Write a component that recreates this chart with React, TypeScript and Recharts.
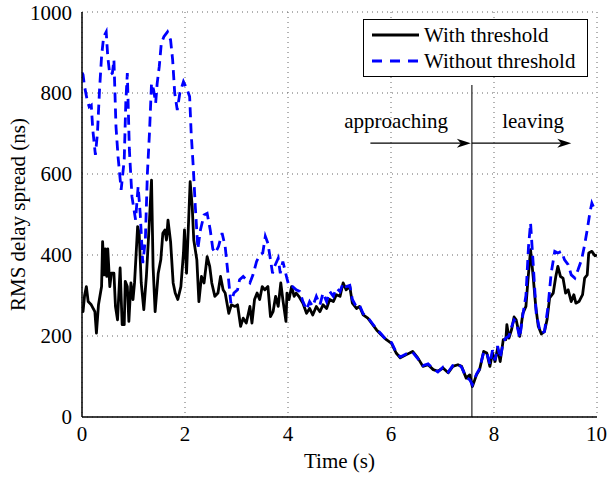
import {
  CartesianGrid,
  Legend,
  Line,
  LineChart,
  ReferenceDot,
  ReferenceLine,
  XAxis,
  YAxis,
} from "recharts";

const FONT = '"Liberation Serif", "Times New Roman", serif';

const xTicks = [0, 2, 4, 6, 8, 10];
const yTicks = [0, 200, 400, 600, 800, 1000];
const seriesNames = ["With threshold", "Without threshold"];
const transitionTime = 7.57;
const transitionTop = 820;

// [time (s), RMS delay spread (ns)]
const withThreshold: [number, number][] = [
  [0, 275], [0.02, 260], [0.05, 300], [0.085, 322], [0.12, 285], [0.18, 277],
  [0.25, 260], [0.28, 207], [0.32, 277], [0.38, 322], [0.4, 433], [0.43, 351],
  [0.45, 415], [0.48, 347], [0.5, 415], [0.54, 322], [0.57, 355], [0.62, 355],
  [0.65, 273], [0.69, 240], [0.74, 368], [0.78, 228], [0.82, 228], [0.84, 335],
  [0.88, 322], [0.91, 236], [0.95, 331], [0.99, 290], [1.02, 331], [1.08, 470],
  [1.11, 454], [1.15, 331], [1.2, 265], [1.25, 347], [1.3, 462], [1.35, 585],
  [1.38, 372], [1.42, 260], [1.48, 355], [1.53, 388], [1.57, 454], [1.61, 462],
  [1.64, 437], [1.67, 486], [1.72, 433], [1.77, 331], [1.81, 306], [1.86, 290],
  [1.92, 322], [1.97, 405], [1.99, 462], [2.03, 355], [2.1, 581], [2.14, 520],
  [2.17, 437], [2.23, 388], [2.27, 285], [2.32, 347], [2.37, 331], [2.43, 396],
  [2.48, 372], [2.52, 331], [2.58, 298], [2.64, 306], [2.69, 347], [2.74, 314],
  [2.78, 306], [2.85, 256], [2.9, 277], [2.97, 273], [3.02, 277], [3.08, 224],
  [3.13, 244], [3.19, 232], [3.26, 273], [3.3, 232], [3.35, 290], [3.4, 306],
  [3.45, 290], [3.5, 322], [3.55, 314], [3.61, 322], [3.66, 248], [3.71, 260],
  [3.76, 298], [3.81, 273], [3.86, 331], [3.9, 290], [3.96, 236], [3.98, 306],
  [4.02, 290], [4.07, 322], [4.12, 298], [4.16, 306], [4.21, 298], [4.29, 281],
  [4.36, 256], [4.42, 268], [4.48, 252], [4.55, 273], [4.62, 260], [4.68, 277],
  [4.75, 268], [4.81, 290], [4.88, 285], [4.94, 302], [5.01, 298], [5.07, 331],
  [5.13, 314], [5.2, 322], [5.25, 281], [5.33, 268], [5.39, 273], [5.46, 252],
  [5.55, 244], [5.62, 232], [5.72, 215], [5.81, 203], [5.91, 191], [6.01, 182],
  [6.1, 158], [6.18, 146], [6.3, 154], [6.42, 162], [6.52, 146], [6.62, 125],
  [6.72, 129], [6.82, 117], [6.91, 113], [7.01, 121], [7.11, 109], [7.2, 125],
  [7.3, 129], [7.37, 125], [7.46, 96], [7.53, 104], [7.58, 75], [7.66, 104],
  [7.72, 117], [7.8, 162], [7.86, 158], [7.92, 125], [7.97, 158], [8.02, 137],
  [8.07, 170], [8.12, 137], [8.18, 191], [8.23, 191], [8.25, 228], [8.29, 195],
  [8.34, 215], [8.39, 247], [8.43, 240], [8.5, 199], [8.56, 256], [8.62, 273],
  [8.66, 339], [8.71, 413], [8.76, 347], [8.81, 273], [8.86, 224], [8.92, 205],
  [8.98, 211], [9.03, 240], [9.08, 294], [9.15, 306], [9.2, 347], [9.24, 372],
  [9.29, 347], [9.34, 343], [9.39, 306], [9.44, 314], [9.5, 285], [9.55, 302],
  [9.59, 281], [9.65, 285], [9.72, 302], [9.76, 343], [9.81, 351], [9.84, 405],
  [9.9, 409], [9.96, 398], [10, 400],
];

const withoutThreshold: [number, number][] = [
  [0, 850], [0.02, 845], [0.05, 816], [0.1, 783], [0.14, 766], [0.18, 770],
  [0.21, 709], [0.26, 647], [0.3, 701], [0.34, 807], [0.38, 890], [0.42, 939],
  [0.47, 951], [0.5, 890], [0.54, 845], [0.59, 849], [0.62, 882], [0.66, 717],
  [0.7, 643], [0.76, 561], [0.82, 635], [0.85, 775], [0.88, 849], [0.92, 660],
  [0.97, 544], [1.04, 487], [1.09, 569], [1.13, 503], [1.18, 380], [1.23, 437],
  [1.27, 602], [1.31, 701], [1.35, 824], [1.39, 808], [1.43, 775], [1.46, 824],
  [1.5, 865], [1.54, 923], [1.59, 939], [1.66, 951], [1.72, 931], [1.76, 882],
  [1.8, 800], [1.85, 758], [1.9, 800], [1.97, 828], [2.03, 812], [2.09, 791],
  [2.12, 701], [2.16, 618], [2.2, 520], [2.25, 415], [2.3, 462], [2.37, 499],
  [2.43, 503], [2.49, 462], [2.54, 415], [2.59, 405], [2.65, 421], [2.72, 454],
  [2.78, 421], [2.84, 347], [2.89, 281], [2.95, 306], [3.02, 314], [3.06, 339],
  [3.13, 347], [3.19, 339], [3.26, 331], [3.32, 351], [3.39, 384], [3.45, 400],
  [3.51, 405], [3.56, 446], [3.61, 429], [3.66, 388], [3.7, 355], [3.74, 372],
  [3.81, 392], [3.85, 355], [3.9, 384], [3.97, 347], [4.02, 322], [4.09, 322],
  [4.16, 314], [4.23, 310], [4.29, 285], [4.36, 265], [4.42, 285], [4.48, 273],
  [4.55, 298], [4.62, 277], [4.68, 306], [4.75, 285], [4.81, 310], [4.88, 298],
  [4.94, 318], [5.01, 310], [5.07, 331], [5.13, 322], [5.2, 325], [5.25, 290],
  [5.33, 272], [5.39, 276], [5.46, 255], [5.55, 246], [5.62, 234], [5.72, 217],
  [5.81, 205], [5.91, 190], [6.01, 184], [6.1, 160], [6.18, 148], [6.3, 156],
  [6.42, 160], [6.52, 144], [6.62, 127], [6.72, 131], [6.82, 119], [6.91, 111],
  [7.01, 123], [7.11, 111], [7.2, 127], [7.3, 131], [7.37, 123], [7.46, 98],
  [7.53, 92], [7.58, 80], [7.66, 106], [7.72, 119], [7.8, 160], [7.86, 160],
  [7.92, 130], [7.97, 165], [8.02, 140], [8.07, 175], [8.12, 145], [8.18, 185],
  [8.23, 195], [8.29, 200], [8.34, 222], [8.39, 240], [8.43, 235], [8.5, 195],
  [8.56, 252], [8.62, 300], [8.67, 421], [8.71, 479], [8.76, 380], [8.82, 256],
  [8.9, 207], [8.98, 211], [9.05, 273], [9.11, 355], [9.18, 409], [9.24, 405],
  [9.31, 409], [9.37, 388], [9.44, 376], [9.5, 351], [9.57, 343], [9.63, 363],
  [9.7, 388], [9.76, 425], [9.81, 462], [9.86, 503], [9.9, 528], [9.94, 516],
  [10, 515],
];

// arrows: label, label position, arrow start/end, arrow height
const annotations = [
  { text: "approaching", labelX: 6.1, labelY: 714, from: 5.6, to: 7.55, y: 676 },
  { text: "leaving", labelX: 8.76, labelY: 714, from: 7.57, to: 9.5, y: 676 },
];

const withData = withThreshold.map(([t, v]) => ({ t, v }));
const withoutData = withoutThreshold.map(([t, v]) => ({ t, v }));

const tickStyle = { fontSize: 21, fill: "#000", fontFamily: FONT };

function ArrowHead(props: any) {
  const { cx, cy } = props;
  if (cx == null || cy == null) return null;
  return (
    <polygon
      points={`${cx},${cy} ${cx - 14},${cy - 4.5} ${cx - 10},${cy} ${cx - 14},${cy + 4.5}`}
      fill="#000"
    />
  );
}

function LegendBox() {
  const row = { display: "flex", alignItems: "center", height: 26 };
  return (
    <div
      style={{
        boxSizing: "border-box",
        width: 225,
        height: 58,
        border: "1.5px solid #000",
        background: "#fff",
        paddingTop: 2,
        fontFamily: FONT,
        fontSize: 21,
        color: "#000",
      }}
    >
      <div style={row}>
        <svg width={47} height={6} style={{ marginLeft: 8 }}>
          <line x1={0} y1={3} x2={47} y2={3} stroke="#000" strokeWidth={2.8} />
        </svg>
        <span style={{ marginLeft: 5 }}>{seriesNames[0]}</span>
      </div>
      <div style={row}>
        <svg width={47} height={6} style={{ marginLeft: 8 }}>
          <line x1={0} y1={3} x2={47} y2={3} stroke="#0000ff" strokeWidth={2.8} strokeDasharray="10 8" />
        </svg>
        <span style={{ marginLeft: 5 }}>{seriesNames[1]}</span>
      </div>
    </div>
  );
}

export default function App() {
  return (
    <div style={{ position: "absolute", left: 0, top: 0, width: 607, height: 478, background: "#fff" }}>
      <LineChart width={607} height={478} margin={{ top: 12, right: 10, bottom: 0, left: 0 }}>
        <CartesianGrid stroke="#666" strokeDasharray="1 4" />
        <XAxis
          dataKey="t"
          type="number"
          domain={[0, 10]}
          ticks={xTicks}
          allowDataOverflow
          height={61}
          tickSize={0}
          tickMargin={9}
          tick={tickStyle}
          axisLine={{ stroke: "#000", strokeWidth: 1.5 }}
          label={{ value: "Time (s)", position: "insideBottom", offset: 10, style: tickStyle }}
        />
        <XAxis
          xAxisId="top"
          orientation="top"
          type="number"
          domain={[0, 10]}
          height={0}
          tick={false}
          tickLine={false}
          axisLine={{ stroke: "#000", strokeWidth: 1.5 }}
        />
        <YAxis
          type="number"
          domain={[0, 1000]}
          ticks={yTicks}
          width={82}
          tickSize={0}
          tickMargin={10}
          tick={tickStyle}
          axisLine={{ stroke: "#000", strokeWidth: 1.5 }}
          label={{
            value: "RMS delay spread (ns)",
            angle: -90,
            position: "insideLeft",
            offset: 18,
            style: { ...tickStyle, textAnchor: "middle" },
          }}
        />
        <YAxis
          yAxisId="right"
          orientation="right"
          type="number"
          domain={[0, 1000]}
          width={0}
          tick={false}
          tickLine={false}
          axisLine={{ stroke: "#000", strokeWidth: 1.5 }}
        />
        <Legend
          layout="horizontal"
          verticalAlign="middle"
          align="center"
          wrapperStyle={{ left: 363, top: 19, width: 225 }}
          content={() => <LegendBox />}
        />
        <ReferenceLine
          segment={[
            { x: transitionTime, y: 0 },
            { x: transitionTime, y: transitionTop },
          ]}
          stroke="#4d4d4d"
          strokeWidth={1.5}
        />
        {annotations.map((a) => (
          <ReferenceLine
            key={a.text + "-line"}
            segment={[
              { x: a.from, y: a.y },
              { x: a.to - 0.15, y: a.y },
            ]}
            stroke="#000"
            strokeWidth={1.2}
          />
        ))}
        {annotations.map((a) => (
          <ReferenceDot key={a.text + "-head"} x={a.to} y={a.y} r={0} shape={(p: any) => <ArrowHead {...p} />} />
        ))}
        {annotations.map((a) => (
          <ReferenceDot
            key={a.text}
            x={a.labelX}
            y={a.labelY}
            r={0}
            shape={(p: any) => (
              <text x={p.cx} y={p.cy} textAnchor="middle" fontFamily={FONT} fontSize={21} fill="#000">
                {a.text}
              </text>
            )}
          />
        ))}
        <Line
          data={withData}
          dataKey="v"
          name={seriesNames[0]}
          type="linear"
          stroke="#000"
          strokeWidth={2.8}
          strokeLinejoin="round"
          dot={false}
          isAnimationActive={false}
        />
        <Line
          data={withoutData}
          dataKey="v"
          name={seriesNames[1]}
          type="linear"
          stroke="#0000ff"
          strokeWidth={2.8}
          strokeDasharray="10 6"
          dot={false}
          isAnimationActive={false}
        />
      </LineChart>
    </div>
  );
}
